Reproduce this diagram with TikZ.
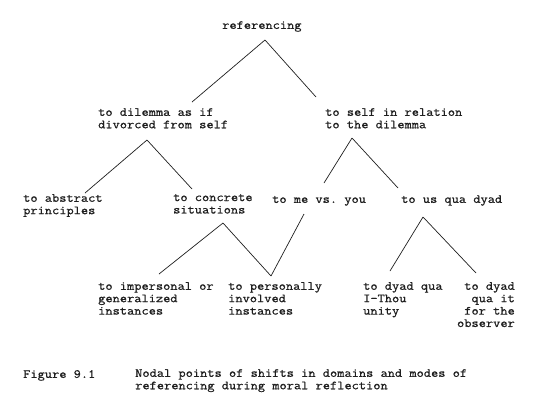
\documentclass[tikz,border=0pt]{standalone}
\usepackage{fontspec}
\usepackage{tikz}
\newfontfamily\typew{Latin Modern Mono}[FakeStretch=1.13, RawFeature={embolden=0.8}]
\definecolor{inkgray}{RGB}{30,30,30}
\frenchspacing
\tikzset{
  txt/.style={font=\typew\fontsize{12.4}{12.4}\selectfont, text=inkgray,
    inner sep=0pt, anchor=north west, align=left, execute at begin node=\strut},
  branch/.style={draw=inkgray, line width=0.7pt}
}

\begin{document}
\begin{tikzpicture}[x=1pt,y=-1pt]
        \useasboundingbox (0,0) rectangle (556,416);
        % labels
        \node[txt] (ref) at (222,20) {referencing};
        \node[txt] (dil) at (98,108) {to dilemma as if\\divorced from self};
        \node[txt] (self) at (325,108) {to self in relation\\to the dilemma};
        \node[txt] (abst) at (23,194) {to abstract\\principles};
        \node[txt] (conc) at (173,194) {to concrete\\situations};
        \node[txt] (mevy) at (272,194) {to me vs. you};
        \node[txt] (usd) at (401,194) {to us qua dyad};
        \node[txt] (imp) at (98,282) {to impersonal or\\generalized\\instances};
        \node[txt] (pers) at (228,282) {to personally\\involved\\instances};
        \node[txt] (ithou) at (363,282) {to dyad qua\\I-Thou\\unity};
        \node[txt,anchor=north east,align=right] (quait) at (515,282) {to dyad\\qua it\\for the\\observer};
        \node[txt] (fignum) at (23,369) {Figure 9.1};
        \node[txt] (figcap) at (135,369) {Nodal points of shifts in domains and modes of\\referencing during moral reflection};
        % branch ends
        \coordinate (ref-a) at (265,40);
        \coordinate (dil-t) at (192,102);
        \coordinate (self-t) at (316,97);
        \coordinate (dil-a) at (147,140);
        \coordinate (abst-t) at (85,193);
        \coordinate (conc-t) at (192,189);
        \coordinate (self-a) at (352,138);
        \coordinate (mevy-t) at (324,183);
        \coordinate (usd-t) at (398,188);
        \coordinate (conc-a) at (223,223);
        \coordinate (imp-t) at (159,274);
        \coordinate (pers-t) at (271,276);
        \coordinate (mevy-b) at (304,214);
        \coordinate (usd-a) at (423,217);
        \coordinate (ithou-t) at (390,271);
        \coordinate (quait-t) at (476,273);
        \foreach \a/\b in {ref-a/dil-t, ref-a/self-t, dil-a/abst-t, dil-a/conc-t,
            self-a/mevy-t, self-a/usd-t, conc-a/imp-t, conc-a/pers-t,
            mevy-b/pers-t, usd-a/ithou-t, usd-a/quait-t}{
            \draw[branch] (\a) -- (\b);}
      \end{tikzpicture}
\end{document}
